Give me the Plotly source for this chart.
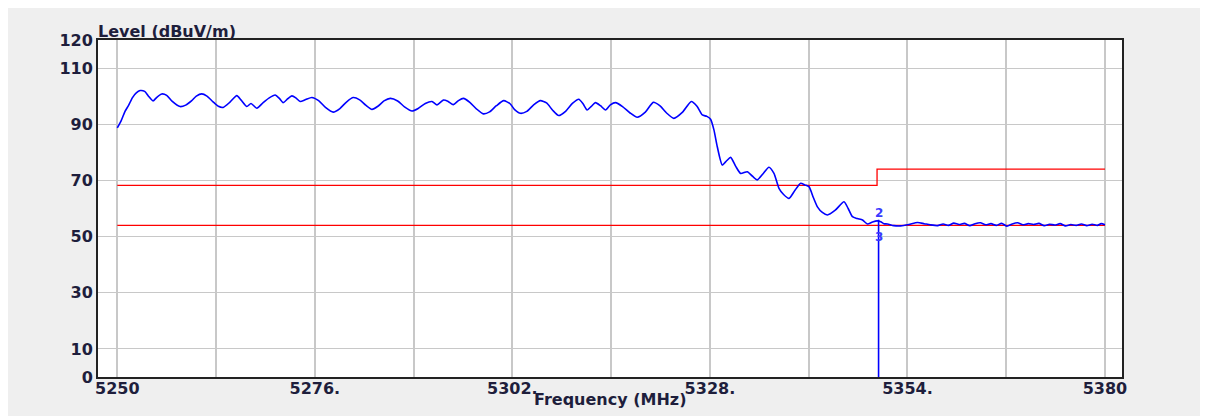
import plotly.graph_objects as go

# measured level trace (frequency in MHz, level in dBuV/m)
freq_mhz = [
    5250.0, 5250.5, 5251.0, 5251.5, 5252.0, 5252.5, 5253.0, 5253.6, 5254.1, 5254.7,
    5255.2, 5255.85, 5256.5, 5257.2, 5258.26, 5259.0, 5259.8, 5260.4, 5261.12, 5261.8,
    5262.6, 5263.3, 5263.93, 5264.8, 5265.73, 5266.3, 5267.05, 5267.6, 5268.37, 5269.2,
    5270.0, 5270.78, 5271.3, 5271.83, 5272.4, 5272.98, 5273.5, 5274.07, 5274.8, 5275.61,
    5276.5, 5277.4, 5278.42, 5279.3, 5280.2, 5281.05, 5281.9, 5282.7, 5283.52, 5284.3,
    5285.1, 5285.93, 5286.9, 5287.8, 5288.79, 5289.6, 5290.54, 5291.42, 5292.08, 5292.91,
    5293.5, 5294.23, 5294.9, 5295.55, 5296.4, 5297.3, 5298.18, 5299.0, 5299.9, 5300.86,
    5301.7, 5302.3, 5303.06, 5303.9, 5304.8, 5305.69, 5306.5, 5307.3, 5308.1, 5309.0,
    5309.9, 5310.74, 5311.3, 5311.84, 5312.4, 5312.94, 5313.6, 5314.26, 5314.9, 5315.57,
    5316.5, 5317.5, 5318.43, 5319.5, 5320.54, 5321.4, 5322.3, 5323.25, 5324.4, 5325.55,
    5326.3, 5327.0, 5327.6, 5328.09, 5328.53, 5328.97, 5329.63, 5330.2, 5330.73, 5331.4,
    5332.04, 5332.92, 5333.6, 5334.24, 5335.0, 5335.77, 5336.43, 5337.09, 5337.7, 5338.41,
    5339.2, 5339.95, 5340.5, 5341.04, 5341.6, 5342.15, 5342.8, 5343.47, 5344.5, 5345.65,
    5346.2, 5346.76, 5347.4, 5348.08, 5348.73, 5349.4, 5350.0, 5350.48, 5350.9, 5351.37,
    5352.2, 5353.12, 5354.2, 5355.32, 5356.2, 5357.0, 5357.96, 5358.7, 5359.4, 5360.1,
    5360.8, 5361.5, 5362.2, 5362.9, 5363.6, 5364.3, 5365.0, 5365.7, 5366.4, 5367.1,
    5367.8, 5368.5, 5369.2, 5369.9, 5370.6, 5371.3, 5372.0, 5372.7, 5373.4, 5374.1,
    5374.8, 5375.5, 5376.2, 5376.9, 5377.6, 5378.3, 5379.0, 5379.5, 5380.0,
]
level_dbuv = [
    88.7, 91.2, 94.5, 96.8, 99.5, 101.2, 102.0, 101.7, 100.0, 98.3,
    99.6, 100.8, 100.3, 98.2, 96.3, 96.8, 98.4, 100.0, 100.8, 100.0,
    98.0, 96.4, 96.0, 97.8, 100.2, 98.6, 96.3, 97.4, 95.7, 97.7,
    99.4, 100.4, 99.3, 97.7, 99.0, 100.1, 99.4, 98.1, 98.8, 99.5,
    98.4, 96.0, 94.3, 95.6, 98.0, 99.5, 98.7, 96.8, 95.3, 96.4,
    98.3, 99.2, 98.3, 96.2, 94.7, 95.6, 97.4, 98.1, 96.9, 98.6,
    98.2, 97.0, 98.4, 99.2, 97.8, 95.4, 93.7, 94.4, 96.6, 98.4,
    97.3, 95.2, 93.9, 94.6, 96.9, 98.4, 97.6, 95.0, 93.1, 94.6,
    97.4, 98.9, 97.3, 95.1, 96.4, 97.7, 96.6, 95.1, 96.9, 97.7,
    96.3, 94.0, 92.5, 94.3, 97.8, 96.6, 94.0, 92.1, 94.3, 98.1,
    96.4, 93.3, 92.8, 91.8, 88.0, 82.0, 75.5, 77.0, 78.2, 75.0,
    72.5, 73.1, 71.5, 70.2, 72.4, 74.7, 72.5, 67.2, 65.0, 63.6,
    66.5, 69.0, 68.4, 67.8, 64.0, 60.6, 58.6, 57.7, 59.4, 62.4,
    60.0, 57.1, 56.4, 55.9, 54.5, 55.2, 55.6, 55.3, 54.6, 54.5,
    53.9, 53.8, 54.3, 55.0, 54.6, 54.2, 53.9, 54.5, 54.0, 54.8,
    54.3, 54.7, 53.9, 54.6, 54.9, 54.2, 54.6, 54.0, 54.7, 53.7,
    54.5, 54.9, 54.2, 54.6, 54.3, 54.7, 53.9, 54.4, 54.1, 54.6,
    53.8, 54.3, 54.0, 54.5, 53.9, 54.4, 54.0, 54.6, 54.2,
]

# limit lines
peak_limit_f = [5250, 5350, 5350, 5380]
peak_limit_db = [68.2, 68.2, 74, 74]
avg_limit_f = [5250, 5380]
avg_limit_db = [54, 54]

# marker
marker_f = 5350.2
marker_span = [0, 56]
marker_labels = ["2", "3"]
marker_label_db = [58.5, 50.0]

x_grid = [5250, 5263, 5276, 5289, 5302, 5315, 5328, 5341, 5354, 5367, 5380]
x_text = ["5250", "", "5276.", "", "5302.", "", "5328.", "", "5354.", "", "5380"]
y_ticks = [0, 10, 30, 50, 70, 90, 110, 120]

text_col = "#1e1e3c"
font_fam = "DejaVu Sans"

fig = go.Figure()
fig.add_trace(go.Scatter(x=avg_limit_f, y=avg_limit_db, mode="lines",
                         line=dict(color="#ff0000", width=1.3), hoverinfo="skip"))
fig.add_trace(go.Scatter(x=peak_limit_f, y=peak_limit_db, mode="lines",
                         line=dict(color="#ff0000", width=1.3), hoverinfo="skip"))
fig.add_trace(go.Scatter(x=freq_mhz, y=level_dbuv, mode="lines",
                         line=dict(color="#0000ff", width=1.6, shape="spline", smoothing=0.6)))
fig.add_trace(go.Scatter(x=[marker_f, marker_f], y=marker_span, mode="lines",
                         line=dict(color="#0000ff", width=1.6), hoverinfo="skip"))

for lab, yv in zip(marker_labels, marker_label_db):
    fig.add_annotation(x=marker_f, y=yv, text="<b>%s</b>" % lab, showarrow=False,
                       font=dict(family=font_fam, size=12, color="#3a3aff"))

fig.add_annotation(xref="paper", yref="paper", x=0, y=1, xanchor="left", yanchor="bottom",
                   text="<b>Level (dBuV/m)</b>", showarrow=False, yshift=-3, xshift=-2,
                   font=dict(family=font_fam, size=16, color=text_col))
fig.add_annotation(xref="paper", yref="paper", x=0.5, y=-0.0653, xanchor="center", yanchor="middle",
                   text="<b>Frequency (MHz)</b>", showarrow=False,
                   font=dict(family=font_fam, size=16, color=text_col))

# page body adds an 8px white margin, so the figure is 8px smaller
fig.update_layout(
    width=1200, height=408,
    margin=dict(l=90, r=86, t=32, b=39),
    paper_bgcolor="#efefef", plot_bgcolor="white",
    showlegend=False,
)
fig.update_xaxes(range=[5247.46, 5382.24], tickvals=x_grid, ticktext=x_text,
                 showgrid=True, gridcolor="#c8c8c8", gridwidth=2, zeroline=False,
                 showline=True, linecolor="#222222", linewidth=2, mirror=True, ticks="",
                 ticklabelstandoff=-4,
                 tickfont=dict(family=font_fam, size=16, color=text_col, weight="bold"))
fig.update_yaxes(range=[0, 120], tickvals=y_ticks,
                 showgrid=True, gridcolor="#c8c8c8", gridwidth=1, zeroline=False,
                 showline=True, linecolor="#222222", linewidth=2, mirror=True, ticks="",
                 tickfont=dict(family=font_fam, size=16, color=text_col, weight="bold"))

fig.write_html("out.html")
